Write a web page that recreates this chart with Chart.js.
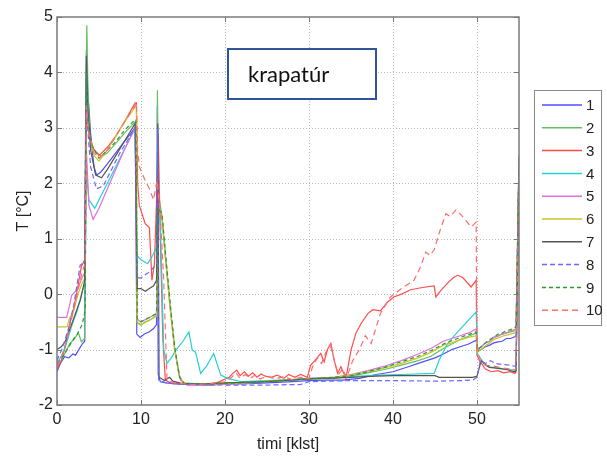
<!DOCTYPE html>
<html>
<head>
<meta charset="utf-8">
<script src="https://cdn.jsdelivr.net/npm/chart.js@4"></script>
<style>
  html, body { margin: 0; padding: 0; background: #fff; }
  canvas { display: block; }
</style>
</head>
<body>
<canvas id="c" width="607" height="457"></canvas>
<script>
// Temperature logs, [time in klst, T in °C]
const s1 = [[0,-1.4],[0.4,-1.25],[0.9,-1.13],[1.4,-1.15],[1.9,-1.08],[2.2,-1.1],[2.6,-1.0],[3.0,-0.9],[3.3,-0.85],[3.42,2.5],[3.5,4.4],[3.65,3.7],[4.0,2.9],[4.4,2.3],[4.7,2.15],[5.2,2.2],[6.0,2.35],[7.0,2.55],[8.0,2.75],[8.8,2.9],[9.35,3.02],[9.5,-0.72],[9.9,-0.78],[10.4,-0.72],[11.0,-0.68],[11.5,-0.62],[11.85,-0.55],[11.95,3.38],[12.05,-1.45],[12.3,-1.58],[13,-1.6],[14,-1.62],[16,-1.63],[18,-1.64],[20,-1.62],[22,-1.62],[25,-1.6],[28,-1.58],[30,-1.56],[32,-1.55],[34,-1.55],[36,-1.52],[38,-1.45],[40,-1.4],[41,-1.35],[42,-1.3],[43,-1.25],[44,-1.2],[45,-1.15],[46,-1.08],[47,-1.0],[48,-0.95],[49,-0.9],[49.9,-0.83],[50.05,-1.02],[50.5,-1.0],[51,-0.95],[51.5,-0.92],[52,-0.88],[52.5,-0.86],[53,-0.85],[53.5,-0.8],[54,-0.8],[54.5,-0.77],[54.65,-0.75],[55,2.45]];
const s2 = [[0,-1.3],[0.5,-1.2],[1.0,-1.05],[1.55,-0.89],[2.0,-0.82],[2.55,-0.7],[2.9,-0.86],[3.3,-0.8],[3.4,3.0],[3.55,4.85],[3.7,3.6],[3.9,2.85],[4.4,2.6],[5.3,2.48],[6.0,2.55],[7.0,2.72],[8.0,2.9],[9.3,3.11],[9.4,3.1],[9.55,-0.52],[10,-0.56],[10.5,-0.5],[11,-0.47],[11.5,-0.42],[11.85,-0.38],[11.95,3.68],[12.1,1.8],[12.5,1.4],[13,0.55],[13.5,-0.25],[14,-0.95],[14.5,-1.45],[15,-1.6],[17,-1.62],[20,-1.6],[23,-1.6],[26,-1.57],[30,-1.53],[33,-1.52],[35,-1.48],[37,-1.42],[39,-1.36],[41,-1.28],[43,-1.2],[44.5,-1.12],[46,-0.98],[47,-0.9],[48,-0.82],[49,-0.76],[49.9,-0.7],[50.05,-1.0],[50.5,-0.95],[51,-0.88],[51.5,-0.85],[52,-0.78],[52.5,-0.75],[53,-0.72],[53.5,-0.7],[54,-0.68],[54.5,-0.66],[54.65,-0.65],[55,2.5]];
const s3 = [[0,-1.35],[0.5,-1.2],[1.0,-0.95],[1.5,-0.55],[2.0,-0.25],[2.5,0.15],[2.9,0.5],[3.3,0.62],[3.45,3.4],[3.7,3.0],[4.2,2.65],[5.0,2.5],[6.0,2.65],[7.0,2.85],[8.0,3.1],[9.3,3.45],[9.45,3.45],[9.6,2.0],[9.8,1.6],[10.5,1.27],[11.0,1.2],[11.3,0.25],[11.6,0.55],[11.9,1.9],[12.05,2.9],[12.3,1.0],[12.6,-0.8],[12.9,-1.55],[13.5,-1.6],[15,-1.62],[17,-1.63],[19,-1.6],[20.5,-1.5],[21.0,-1.42],[21.4,-1.37],[21.8,-1.47],[22.3,-1.4],[22.8,-1.48],[23.3,-1.42],[23.8,-1.5],[24.3,-1.44],[24.8,-1.48],[25.5,-1.5],[26.2,-1.46],[27,-1.52],[27.6,-1.45],[28.3,-1.5],[29,-1.45],[29.8,-1.5],[30.2,-1.28],[30.7,-1.2],[31.4,-1.07],[31.8,-1.22],[32.2,-1.0],[32.6,-0.89],[33.0,-1.19],[33.4,-1.43],[33.8,-1.31],[34.4,-1.52],[35.0,-1.01],[35.6,-0.7],[36.2,-0.53],[37.0,-0.35],[37.6,-0.28],[38.5,-0.3],[39.3,-0.15],[40.1,-0.05],[41,0.0],[42.1,0.08],[43.5,0.12],[44.9,0.15],[45.1,-0.05],[45.7,0.07],[46.5,0.2],[47.2,0.3],[47.7,0.34],[48.3,0.3],[49.3,0.13],[49.9,0.25],[50.0,-1.1],[50.3,-1.2],[51.0,-1.35],[51.7,-1.4],[52.5,-1.38],[53.2,-1.42],[54.0,-1.4],[54.5,-1.43],[54.65,-1.4],[55,2.3]];
const s4 = [[0,-1.25],[0.6,-1.1],[1.2,-0.85],[1.8,-0.55],[2.4,-0.3],[3.0,0.05],[3.35,0.2],[3.5,2.2],[3.8,1.7],[4.5,1.55],[5.5,1.85],[6.5,2.15],[7.5,2.45],[8.5,2.75],[9.3,3.0],[9.5,0.7],[10,0.62],[10.8,0.55],[11.4,0.7],[11.85,0.85],[12.0,1.5],[12.3,1.3],[12.7,-1.0],[13.1,-1.25],[13.6,-1.15],[14.2,-1.0],[15.0,-0.85],[15.7,-0.68],[16.1,-1.01],[16.5,-1.05],[17.1,-1.43],[17.8,-1.3],[18.65,-1.07],[19.5,-1.46],[20.3,-1.52],[22,-1.58],[25,-1.56],[28,-1.54],[30,-1.52],[33,-1.5],[36,-1.48],[38.5,-1.46],[41,-1.45],[44.9,-1.43],[45.5,-1.19],[46.5,-0.89],[47.7,-0.68],[48.8,-0.5],[49.9,-0.32],[50.05,-1.07],[50.6,-1.2],[51.3,-1.31],[52.5,-1.33],[53.5,-1.36],[54.5,-1.37],[54.65,-1.35],[55,2.3]];
const s5 = [[0,-0.42],[1.15,-0.42],[1.5,-0.2],[1.75,-0.02],[2.2,0.05],[2.6,0.15],[3.0,0.3],[3.35,0.4],[3.5,2.6],[3.8,1.6],[4.3,1.35],[5.0,1.55],[6.0,1.9],[7.0,2.25],[8.0,2.6],[9.3,3.0],[9.5,-0.45],[10,-0.5],[11,-0.42],[11.85,-0.35],[12.0,1.45],[12.5,1.35],[13,0.5],[13.5,-0.3],[14,-1.0],[14.7,-1.55],[15.5,-1.64],[18,-1.64],[21,-1.62],[25,-1.58],[30,-1.52],[33,-1.5],[35,-1.45],[37,-1.38],[39,-1.3],[41,-1.2],[43,-1.08],[44.5,-0.98],[46,-0.85],[47,-0.8],[48,-0.75],[49,-0.7],[49.9,-0.63],[50.05,-0.98],[50.5,-0.95],[51,-0.88],[51.5,-0.85],[52,-0.78],[52.5,-0.76],[53,-0.72],[53.5,-0.7],[54,-0.66],[54.5,-0.64],[54.65,-0.62],[55,2.4]];
const s6 = [[0,-0.59],[1.2,-0.59],[1.5,-0.43],[2.0,-0.3],[2.5,0.0],[3.0,0.2],[3.35,0.3],[3.5,3.3],[3.8,2.9],[4.4,2.5],[5.0,2.4],[6.0,2.6],[7.0,2.85],[8.0,3.1],[9.3,3.38],[9.45,3.4],[9.55,-0.5],[10,-0.55],[11,-0.47],[11.85,-0.4],[12.0,1.45],[12.5,1.4],[13,0.5],[13.5,-0.3],[14,-0.98],[14.6,-1.5],[15.3,-1.63],[18,-1.63],[22,-1.6],[26,-1.56],[30,-1.53],[33,-1.5],[35,-1.46],[37,-1.4],[39,-1.33],[41,-1.25],[43,-1.15],[44.5,-1.05],[46,-0.92],[47,-0.88],[48,-0.82],[49,-0.78],[49.9,-0.75],[50.05,-1.05],[50.5,-1.0],[51,-0.93],[51.5,-0.88],[52,-0.82],[53,-0.76],[54,-0.72],[54.5,-0.7],[54.65,-0.68],[55,2.35]];
const s7 = [[0,-1.0],[0.5,-0.95],[1.0,-0.85],[1.6,-0.6],[2.2,-0.35],[2.8,-0.1],[3.3,0.25],[3.4,2.5],[3.5,4.3],[3.65,3.4],[4.0,2.6],[4.6,2.15],[5.3,2.1],[6.0,2.25],[7.0,2.5],[8.0,2.75],[9.3,3.08],[9.4,3.08],[9.55,0.1],[10,0.1],[10.5,0.05],[11,0.1],[11.5,0.15],[11.85,0.25],[12.0,3.08],[12.15,-1.5],[12.8,-1.56],[13.4,-1.5],[13.8,-1.57],[15,-1.62],[18,-1.62],[20,-1.6],[25,-1.58],[30,-1.53],[35,-1.5],[38,-1.48],[40,-1.47],[45,-1.47],[45.5,-1.5],[49.5,-1.5],[50,-1.48],[50.5,-1.2],[51,-1.28],[51.5,-1.32],[52.5,-1.34],[53.5,-1.36],[54.5,-1.4],[54.65,-1.38],[55,2.3]];
const s8 = [[0,-1.2],[0.7,-0.95],[1.4,-0.6],[2.0,-0.2],[2.75,0.52],[3.3,0.6],[3.45,3.9],[3.65,3.0],[4.0,2.3],[4.7,1.9],[5.5,1.95],[6.5,2.25],[7.5,2.55],[8.5,2.8],[9.3,3.0],[9.5,0.3],[10,0.29],[10.5,0.35],[11,0.4],[11.5,0.48],[11.85,0.55],[12.0,3.0],[12.1,-1.55],[13,-1.6],[15,-1.63],[20,-1.64],[25,-1.64],[29,-1.63],[30,-1.58],[35,-1.56],[40,-1.56],[45,-1.57],[48,-1.56],[49.5,-1.55],[50,-1.5],[50.4,-1.2],[51,-1.25],[51.6,-1.2],[52.2,-1.25],[53,-1.27],[53.8,-1.28],[54.5,-1.3],[54.65,-1.3],[55,2.5]];
const s9 = [[0,-1.25],[0.6,-1.15],[1.2,-1.0],[1.8,-0.85],[2.4,-0.72],[3.0,-0.55],[3.35,-0.3],[3.5,4.0],[3.7,3.2],[4.1,2.7],[5.0,2.45],[6.0,2.6],[7.0,2.75],[8.0,2.95],[9.3,3.15],[9.4,3.15],[9.55,-0.45],[10,-0.5],[11,-0.42],[11.85,-0.35],[12.0,1.55],[12.5,1.45],[13,0.6],[13.5,-0.2],[14,-0.95],[14.6,-1.5],[15.2,-1.62],[18,-1.62],[22,-1.6],[26,-1.57],[30,-1.53],[33,-1.5],[35,-1.47],[37,-1.4],[39,-1.32],[41,-1.22],[43,-1.12],[44.5,-1.02],[46,-0.9],[47,-0.84],[48,-0.78],[49,-0.73],[49.9,-0.68],[50.05,-1.0],[50.5,-0.95],[51,-0.88],[51.5,-0.82],[52,-0.78],[52.5,-0.72],[53,-0.7],[53.5,-0.66],[54,-0.64],[54.5,-0.6],[54.65,-0.6],[55,2.4]];
const s10 = [[0,-1.3],[0.6,-1.1],[1.2,-0.8],[1.8,-0.4],[2.4,0.0],[3.0,0.4],[3.35,0.55],[3.5,3.4],[3.8,2.9],[4.4,2.55],[5.0,2.45],[6.0,2.6],[7.0,2.85],[8.0,3.1],[9.3,3.4],[9.45,3.45],[9.6,2.6],[9.8,2.3],[10.5,2.05],[11.0,1.9],[11.5,1.7],[11.9,2.05],[12.3,1.45],[12.7,0.25],[13.1,-1.55],[14,-1.6],[16,-1.63],[18,-1.62],[20,-1.58],[20.8,-1.5],[21.3,-1.42],[21.8,-1.52],[22.4,-1.45],[23,-1.52],[23.6,-1.46],[24.2,-1.53],[25,-1.48],[26,-1.53],[27,-1.49],[28,-1.54],[29,-1.5],[30,-1.52],[30.4,-1.32],[31,-1.15],[31.5,-1.25],[32,-1.05],[32.6,-0.95],[33.1,-1.25],[33.5,-1.45],[34,-1.35],[34.5,-1.5],[35.2,-1.2],[36,-1.0],[36.7,-0.75],[37.4,-0.89],[38.5,-0.35],[39.7,-0.05],[41,0.1],[42.5,0.25],[43.3,0.5],[43.9,0.76],[44.4,0.7],[44.9,0.8],[45.6,1.15],[46.3,1.45],[46.8,1.4],[47.5,1.52],[48.3,1.4],[49.3,1.21],[49.9,1.3],[50.0,-1.0],[50.4,-1.2],[51,-1.28],[52,-1.3],[53,-1.33],[54,-1.35],[54.5,-1.36],[54.65,-1.35],[55,2.3]];

const seriesNames = ['1','2','3','4','5','6','7','8','9','10'];
const seriesData = [s1, s2, s3, s4, s5, s6, s7, s8, s9, s10];
const seriesColors = ['#4f4fff','#62c062','#ff4c4c','#22d2d2','#df6fdf','#c6c626','#555555','#6a6aff','#2a9a2a','#ff6e6e'];
const seriesDash = [[],[],[],[],[],[],[],[5,3],[4,3],[6,4]];

const xTicks = [0, 10, 20, 30, 40, 50];
const yTicks = [-2, -1, 0, 1, 2, 3, 4, 5];
const xTitle = 'timi [klst]';
const yTitle = 'T [°C]';
const noteText = 'krapatúr';

const X_MIN = 0, X_MAX = 55, Y_MIN = -2, Y_MAX = 5;
const FONT = '"Liberation Sans", Arial, sans-serif';

// grid, frame, legend, annotation box and axis titles
const decorations = {
  id: 'decorations',
  beforeDatasetsDraw(chart) {
    const { ctx, chartArea: a, scales: { x, y } } = chart;
    ctx.save();
    ctx.strokeStyle = '#b8b8b8';
    ctx.lineWidth = 1;
    ctx.setLineDash([1, 2]);
    xTicks.forEach(v => {
      if (v <= X_MIN || v >= X_MAX) return;
      const px = Math.round(x.getPixelForValue(v)) + 0.5;
      ctx.beginPath(); ctx.moveTo(px, a.top); ctx.lineTo(px, a.bottom); ctx.stroke();
    });
    yTicks.forEach(v => {
      if (v <= Y_MIN || v >= Y_MAX) return;
      const py = Math.round(y.getPixelForValue(v)) + 0.5;
      ctx.beginPath(); ctx.moveTo(a.left, py); ctx.lineTo(a.right, py); ctx.stroke();
    });
    ctx.restore();
  },
  afterDatasetsDraw(chart) {
    const { ctx, chartArea: a, scales: { x, y } } = chart;
    ctx.save();
    ctx.strokeStyle = '#7a7a7a';
    ctx.lineWidth = 1.5;
    ctx.strokeRect(a.left, a.top, a.right - a.left, a.bottom - a.top);
    ctx.lineWidth = 1;
    const tl = 5;
    xTicks.forEach(v => {
      const px = Math.round(x.getPixelForValue(v)) + 0.5;
      ctx.beginPath();
      ctx.moveTo(px, a.bottom); ctx.lineTo(px, a.bottom - tl);
      ctx.moveTo(px, a.top); ctx.lineTo(px, a.top + tl);
      ctx.stroke();
    });
    yTicks.forEach(v => {
      const py = Math.round(y.getPixelForValue(v)) + 0.5;
      ctx.beginPath();
      ctx.moveTo(a.left, py); ctx.lineTo(a.left + tl, py);
      ctx.moveTo(a.right, py); ctx.lineTo(a.right - tl, py);
      ctx.stroke();
    });
    ctx.restore();
  },
  afterDraw(chart) {
    const { ctx, chartArea: a } = chart;
    ctx.save();

    // annotation box
    ctx.fillStyle = '#ffffff';
    ctx.fillRect(228, 49, 148, 50);
    ctx.strokeStyle = '#2f5597';
    ctx.lineWidth = 2;
    ctx.strokeRect(228, 49, 148, 50);
    ctx.fillStyle = '#111111';
    ctx.font = '22px Lato, "Open Sans", sans-serif';
    ctx.textAlign = 'left';
    ctx.textBaseline = 'alphabetic';
    ctx.fillText(noteText, 248, 82);

    // axis titles
    ctx.fillStyle = '#222222';
    ctx.font = '16px ' + FONT;
    ctx.textAlign = 'center';
    ctx.textBaseline = 'middle';
    ctx.fillText(xTitle, (a.left + a.right) / 2, 445);
    ctx.save();
    ctx.translate(24, (a.top + a.bottom) / 2);
    ctx.rotate(-Math.PI / 2);
    ctx.fillText(yTitle, 0, 0);
    ctx.restore();

    // legend
    const lx = 534.5, ly = 90.5, lw = 67, lh = 235;
    ctx.fillStyle = '#ffffff';
    ctx.fillRect(lx, ly, lw, lh);
    ctx.strokeStyle = '#8a8a8a';
    ctx.lineWidth = 1;
    ctx.strokeRect(lx, ly, lw, lh);
    ctx.font = '15px ' + FONT;
    ctx.textAlign = 'left';
    ctx.textBaseline = 'middle';
    chart.data.datasets.forEach((ds, i) => {
      const ry = 105 + i * 22.8;
      ctx.strokeStyle = ds.borderColor;
      ctx.lineWidth = 1.5;
      ctx.setLineDash(ds.borderDash || []);
      ctx.beginPath(); ctx.moveTo(542, ry); ctx.lineTo(582, ry); ctx.stroke();
      ctx.setLineDash([]);
      ctx.fillStyle = '#222222';
      ctx.fillText(ds.label, 586, ry + 1);
    });
    ctx.restore();
  }
};

const datasets = seriesData.map((pts, i) => ({
  label: seriesNames[i],
  data: pts.map(p => ({ x: p[0], y: p[1] })),
  borderColor: seriesColors[i],
  backgroundColor: seriesColors[i],
  borderDash: seriesDash[i],
  borderWidth: 1.2,
  pointRadius: 0,
  showLine: true,
  fill: false,
  tension: 0,
  order: seriesData.length - i
}));

new Chart(document.getElementById('c'), {
  type: 'scatter',
  data: { datasets },
  options: {
    responsive: false,
    animation: false,
    devicePixelRatio: 1,
    layout: { padding: { left: 0, top: 17, right: 88, bottom: 0 } },
    plugins: { legend: { display: false }, tooltip: { enabled: false } },
    scales: {
      x: {
        type: 'linear', min: X_MIN, max: X_MAX,
        afterBuildTicks: s => { s.ticks = xTicks.map(v => ({ value: v })); },
        afterFit: s => { s.height = 52; },
        grid: { display: false, drawTicks: false },
        border: { display: false },
        ticks: { autoSkip: false, maxRotation: 0, padding: 5, color: '#222', font: { family: FONT, size: 16 } }
      },
      y: {
        type: 'linear', min: Y_MIN, max: Y_MAX,
        afterBuildTicks: s => { s.ticks = yTicks.map(v => ({ value: v })); },
        afterFit: s => { s.width = 57; },
        grid: { display: false, drawTicks: false },
        border: { display: false },
        ticks: { autoSkip: false, padding: 4, color: '#222', font: { family: FONT, size: 16 } }
      }
    }
  },
  plugins: [decorations]
});
</script>
</body>
</html>
